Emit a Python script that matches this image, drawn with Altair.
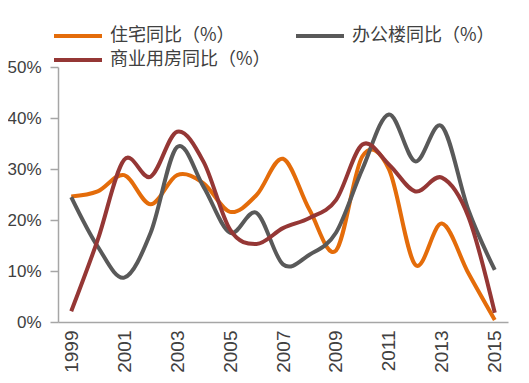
import altair as alt
import pandas as pd

years = list(range(1999, 2016))
residential = [24.6, 25.6, 28.8, 23.1, 28.8, 27.2, 21.6, 24.9, 32.0, 22.0, 14.0, 32.5, 30.0, 11.2, 19.3, 9.6, 0.4]
office = [24.5, 14.8, 8.7, 17.5, 34.3, 26.5, 17.5, 21.4, 11.3, 13.2, 17.5, 30.0, 40.7, 31.5, 38.4, 22.0, 10.2]
commercial = [2.1, 16.1, 31.8, 28.5, 37.3, 31.4, 18.1, 15.3, 18.4, 20.4, 23.9, 34.8, 30.9, 25.6, 28.3, 20.7, 1.8]

series_names = ["住宅同比（%）", "办公楼同比（%）", "商业用房同比（%）"]
series_colors = ["#E46C0A", "#595959", "#953735"]
x_tick_years = [1999, 2001, 2003, 2005, 2007, 2009, 2011, 2013, 2015]
y_ticks = [0, 0.1, 0.2, 0.3, 0.4, 0.5]

rows = []
for name, vals in zip(series_names, [residential, office, commercial]):
    for y, v in zip(years, vals):
        rows.append({"year": y, "value": v / 100.0, "series": name})
df = pd.DataFrame(rows)

axis_color = "#A6A6A6"
text_color = "#404040"

chart = alt.Chart(df).mark_line(interpolate="cardinal", strokeWidth=4).encode(
    x=alt.X(
        "year:Q",
        scale=alt.Scale(domain=[1998.5, 2015.5], nice=False, zero=False),
        axis=alt.Axis(
            values=x_tick_years,
            format="d",
            labelAngle=-90,
            ticks=False,
            grid=False,
            title=None,
            labelFont="Liberation Sans",
            labelFontSize=19,
            labelColor=text_color,
            labelPadding=8,
            domainColor=axis_color,
            domainWidth=1.5,
        ),
    ),
    y=alt.Y(
        "value:Q",
        scale=alt.Scale(domain=[0, 0.5], nice=False),
        axis=alt.Axis(
            values=y_ticks,
            format=".0%",
            grid=False,
            title=None,
            tickSize=8,
            tickColor=axis_color,
            tickWidth=1.5,
            domainColor=axis_color,
            domainWidth=1.5,
            labelFont="Liberation Sans",
            labelFontSize=17,
            labelColor=text_color,
            labelPadding=9,
        ),
    ),
    color=alt.Color(
        "series:N",
        scale=alt.Scale(domain=series_names, range=series_colors),
        sort=series_names,
        legend=alt.Legend(
            title=None,
            orient="none",
            legendX=10,
            legendY=-41,
            direction="horizontal",
            columns=2,
            columnPadding=17,
            rowPadding=5,
            symbolType="M-3,0H3",
            symbolSize=256,
            symbolStrokeWidth=4,
            labelFont="Noto Sans CJK SC",
            labelFontSize=18,
            labelColor=text_color,
            labelOffset=22,
            labelLimit=300,
        ),
    ),
).properties(
    width=450,
    height=255,
    padding={"left": 50, "top": 59, "right": 13, "bottom": 50},
    autosize=alt.AutoSizeParams(type="none"),
).configure_view(stroke=None)

chart.save("out.html", embed_options={"renderer": "svg", "actions": False})
